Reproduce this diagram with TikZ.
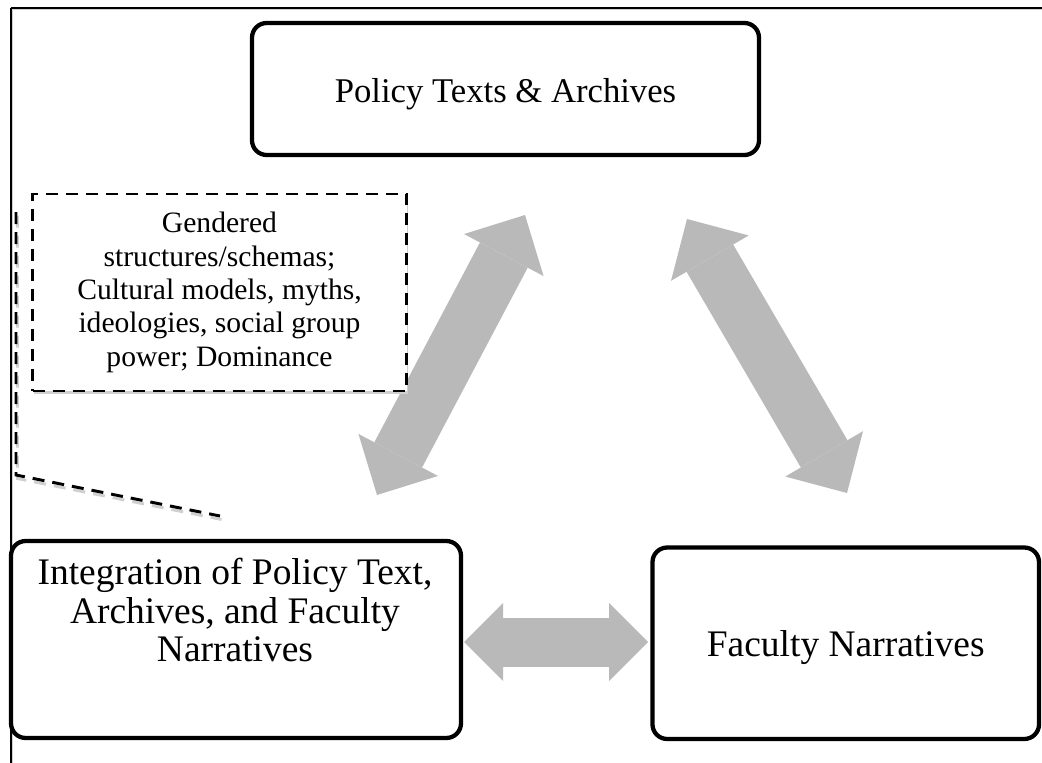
\documentclass[tikz,border=0pt]{standalone}
\usepackage{fontspec}
\setmainfont{Liberation Serif}
\usetikzlibrary{arrows.meta,calc,shadows}
\definecolor{arrowgray}{RGB}{185,185,185}
\definecolor{shadegray}{RGB}{208,208,208}
\begin{document}
\begin{tikzpicture}[
  x=0.75pt, y=-0.75pt,
  box/.style={draw=black, line width=3.2pt, rounded corners=11pt, fill=white,
    inner sep=0pt, text height=26pt, text depth=6pt,
    drop shadow={shadow xshift=0.7pt, shadow yshift=-1pt, fill=shadegray, opacity=1}},
  bigtext/.style={font=\fontsize{28.1pt}{28.9pt}\selectfont},
  notebox/.style={draw=black, line width=2.2pt, dash pattern=on 9pt off 6pt,
    fill=white, inner sep=0pt, align=center,
    font=\fontsize{22.2pt}{25pt}\selectfont,
    drop shadow={shadow xshift=1.2pt, shadow yshift=-2.2pt, fill=shadegray, opacity=1}},
  notelink/.style={draw=black, line width=2.2pt, dash pattern=on 9pt off 6pt},
  notelinkshade/.style={notelink, draw=shadegray},
  frameline/.style={draw=black, line width=1.1pt},
  frameshade/.style={draw=shadegray, line width=1.1pt},
  diagarrow/.style={draw=arrowgray, line width=40.5pt,
    >={Triangle[length=34pt,width=67.5pt,line width=0pt]}, <->},
  flatarrow/.style={draw=arrowgray, line width=36.75pt,
    >={Triangle[length=29.25pt,width=58.5pt,line width=0pt]}, <->}
]
\useasboundingbox (0,0) rectangle (1042,763);

% page frame (top and left edges)
\draw[frameshade] (12.5,9.5) -- (1042,9.5);
\draw[frameshade] (12.5,9.5) -- (12.5,763);
\draw[frameline] (10.5,8) -- (1042,8);
\draw[frameline] (11,8) -- (11,763);

% the three boxes
\node[box, font=\fontsize{26pt}{28pt}\selectfont,
      minimum width=380.25pt, minimum height=99pt] (policy) at (505.5,89)
      {Policy Texts \& Archives};
\node[box, bigtext, minimum width=337.5pt, minimum height=147.75pt] (integ) at (236,639.5) {};
\node[bigtext, align=center, anchor=north, inner sep=0pt] (integtext)
      at ($(integ.north)+(-1,19)$)
      {Integration of Policy Text,\\Archives, and Faculty\\Narratives};
\node[box, bigtext, minimum width=289.9pt, minimum height=143.6pt] (faculty) at (845.75,643.25)
      {Faculty Narratives};

% two-way block arrows between the boxes
\coordinate (la1) at (377,495);
\coordinate (la2) at (525,215);
\coordinate (ra1) at (687,219);
\coordinate (ra2) at (847,493);
\coordinate (ha1) at (464,642);
\coordinate (ha2) at (648,642);
\draw[diagarrow] (la1) -- (la2);
\draw[diagarrow] (ra1) -- (ra2);
\draw[flatarrow] (ha1) -- (ha2);

% dashed callout
\coordinate (linktop) at (16,212);
\coordinate (linkbend) at (16,475);
\coordinate (linkend) at (220,516);
\draw[notelinkshade, transform canvas={shift={(1.5,3.5)}}] (linktop) -- (linkbend) -- (linkend);
\draw[notelink] (linktop) -- (linkbend) -- (linkend);
\node[notebox, minimum width=280.5pt, minimum height=147.75pt] (note) at (219.5,292.5)
      {Gendered\\structures/schemas;\\Cultural models, myths,\\ideologies, social group\\power; Dominance};
\end{tikzpicture}
\end{document}
